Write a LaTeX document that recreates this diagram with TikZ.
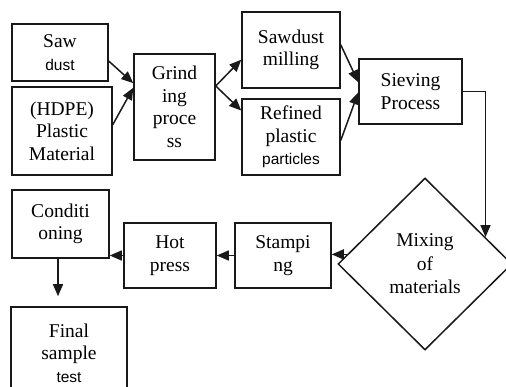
\documentclass[tikz,border=0pt]{standalone}
\usepackage{fontspec}
\setmainfont{Liberation Serif}
\setsansfont{Liberation Sans}
\definecolor{linegray}{RGB}{25,25,25}
\usepackage{tikz}
\usetikzlibrary{arrows.meta,positioning,shapes.geometric,calc}
\newcommand{\smsans}[1]{{\fontsize{15.5}{19}\sffamily #1}}

\begin{document}
\begin{tikzpicture}[
    x=1pt, y=1pt,
    box/.style={draw=linegray, line width=1.5pt, inner sep=0pt, align=center, font=\fontsize{19.5}{22.5}\selectfont},
    decide/.style={draw=linegray, line width=1.5pt, diamond, inner sep=0pt, align=center, font=\fontsize{19.5}{23.5}\selectfont, minimum width=174pt, minimum height=172pt},
    arrow/.style={-{Triangle[length=12pt, width=10pt]}, line width=1.5pt, draw=linegray}
]
    \useasboundingbox (0,0) rectangle (506,-387);

    % first row
    \node[box, minimum width=96pt, minimum height=57pt] (saw) at (60,-52.5) {Saw\\\smsans{dust}};
    \node[box, minimum width=100pt, minimum height=88pt] (hdpe) at (62,-131) {(HDPE)\\Plastic\\Material};
    \node[box, minimum width=81pt, minimum height=106pt] (grind) at (174.5,-107) {Grind\\ing\\proce\\ss};
    \node[box, minimum width=98pt, minimum height=76pt] (mill) at (291,-50) {Sawdust\\milling};
    \node[box, minimum width=98pt, minimum height=76pt] (refined) at (291,-137) {Refined\\plastic\\\smsans{particles}};
    \node[box, minimum width=103pt, minimum height=65pt] (sieve) at (410.5,-91.5) {Sieving\\Process};

    % second row
    \node[decide] (mix) at (425,-264) {Mixing\\of\\materials};
    \node[box, minimum width=96pt, minimum height=65pt] (stamp) at (283,-255.5) {Stampi\\ng};
    \node[box, minimum width=92pt, minimum height=65pt] (hot) at (170,-255.5) {Hot\\press};
    \node[box, minimum width=97pt, minimum height=68pt] (cond) at (60.5,-224) {Conditi\\oning};
    \node[box, minimum width=116pt, minimum height=92pt] (final) at (69,-353) {Final\\sample\\\smsans{test}};

    \draw[arrow] (saw.-10) -- (grind.150);
    \draw[arrow] (hdpe.7) -- (grind.155);
    \draw[arrow] (grind.27) -- (mill.191);
    \draw[arrow] (grind.27) -- (refined.152);
    \draw[arrow] (mill.6) -- (sieve.170);
    \draw[arrow] (refined.-4) -- (sieve.181);
    \draw[arrow] (sieve.east) -| (mix.24);
    \draw[arrow] (mix.173) -- (mix.173 -| stamp.east);
    \draw[arrow] (stamp.west) -- (hot.east);
    \draw[arrow] (hot.west) -- (hot.west -| cond.east);
    \draw[arrow, shorten >=10pt] (cond.south -| 58,0) -- (final.north -| 58,0);
\end{tikzpicture}
\end{document}
